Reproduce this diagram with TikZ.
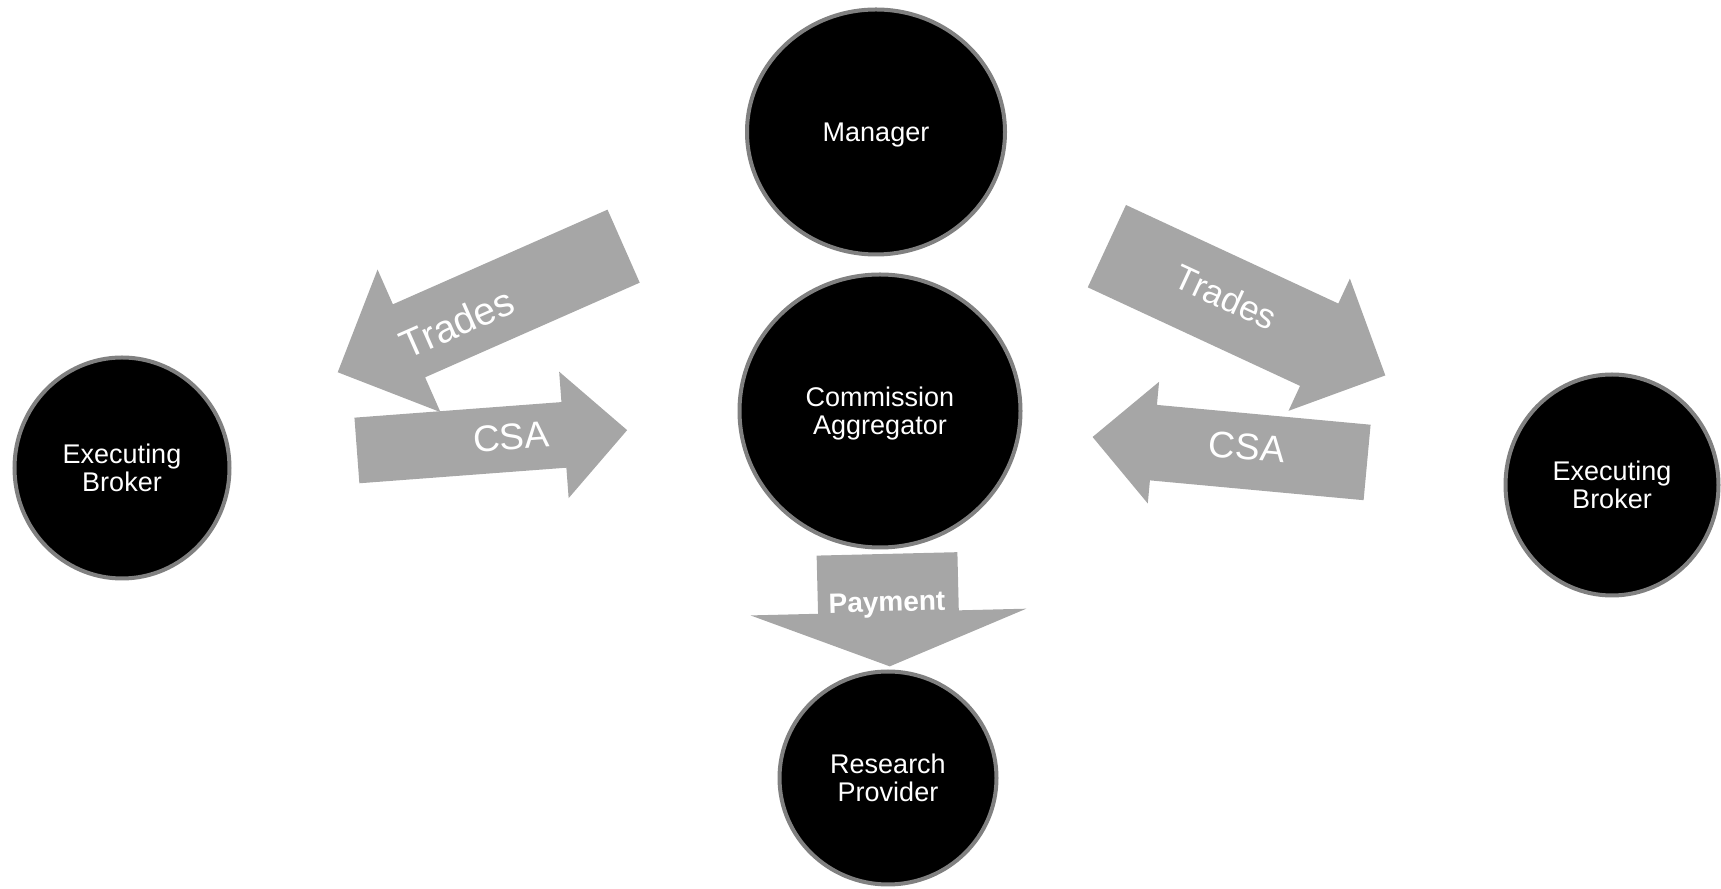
\documentclass[tikz,border=0pt]{standalone}
\usepackage{fontspec}
\setmainfont{Liberation Sans}
\usetikzlibrary{shapes.geometric}
\usetikzlibrary{shapes.arrows}

\definecolor{arrowgray}{RGB}{166,166,166}
\definecolor{ringgray}{RGB}{128,128,128}

\tikzset{
    party/.style={ellipse, fill=black, draw=ringgray, line width=2pt, text=white,
        align=center, inner sep=0pt, text depth=0pt, font=\fontsize{13.5}{14}\selectfont},
    blockarrow/.style={single arrow, fill=arrowgray, inner xsep=0pt, anchor=tail,
        single arrow tip angle=90},
    arrowlabel/.style={text=white, inner sep=0pt}
}

\begin{document}
\begin{tikzpicture}[x=0.5pt, y=0.5pt]

            \useasboundingbox (0,0) rectangle (1721,889);

            % block arrows
            \node[blockarrow, rotate=203.8, minimum height=156.25pt, minimum width=77.5pt,
                inner ysep=19.75pt, single arrow head extend=19pt] (trades_l) at (624,643) {};
            \node[blockarrow, rotate=4.3, minimum height=135.5pt, minimum width=63pt,
                inner ysep=16.25pt, single arrow head extend=15.25pt] (csa_l) at (356.5,438.5) {};
            \node[blockarrow, rotate=-24.9, minimum height=153.5pt, minimum width=72.5pt,
                inner ysep=22.5pt, single arrow head extend=13.75pt] (trades_r) at (1106.5,643) {};
            \node[blockarrow, rotate=174.7, minimum height=137.85pt, minimum width=60.75pt,
                inner ysep=18.75pt, single arrow head extend=11.6pt] (csa_r) at (1367.5,426.5) {};
            \node[blockarrow, rotate=-88.6, minimum height=56.25pt, minimum width=137.5pt,
                inner ysep=35pt, single arrow head extend=33.75pt, single arrow tip angle=137] (pay) at (887,335.5) {};

            % arrow texts
            \node[arrowlabel, rotate=23.8, font=\fontsize{19.5}{20}\selectfont] (trades_l_txt) at (457,566) {Trades};
            \node[arrowlabel, rotate=4.3, font=\fontsize{18.5}{19}\selectfont] (csa_l_txt) at (511,452) {CSA};
            \node[arrowlabel, rotate=-24.9, font=\fontsize{17.5}{18}\selectfont] (trades_r_txt) at (1226,592) {Trades};
            \node[arrowlabel, rotate=-5.3, font=\fontsize{18.5}{19}\selectfont] (csa_r_txt) at (1247,442) {CSA};
            \node[arrowlabel, rotate=1.4, font=\fontsize{14}{15}\selectfont\bfseries] (pay_txt) at (887,284) {Payment};

            % parties
            \node[party, minimum width=129pt, minimum height=122.5pt] (manager) at (876,757) {Manager};
            \node[party, minimum width=140.5pt, minimum height=136.5pt] (aggregator) at (880,478) {Commission\\Aggregator};
            \node[party, minimum width=107.5pt, minimum height=110.5pt] (broker_l) at (122,421) {Executing\\Broker};
            \node[party, minimum width=106.5pt, minimum height=110.5pt] (broker_r) at (1612,404) {Executing\\Broker};
            \node[party, minimum width=108.5pt, minimum height=106.5pt] (research) at (888,111) {Research\\Provider};

        \end{tikzpicture}
\end{document}
